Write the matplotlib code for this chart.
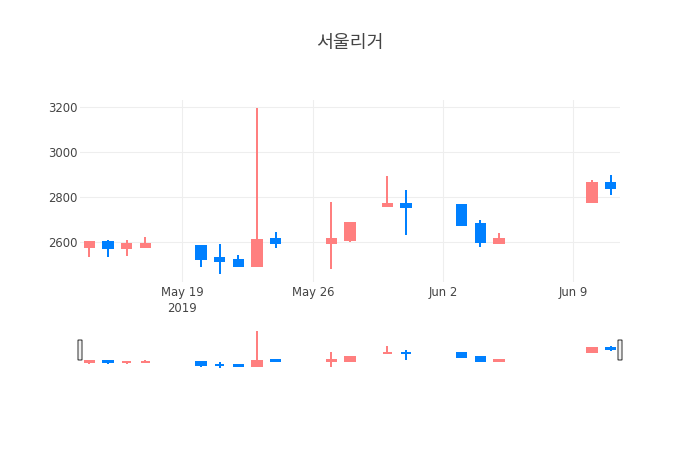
import pandas as pd
import matplotlib
matplotlib.use('Agg')
import matplotlib.pyplot as plt
import matplotlib.dates as mdates
from matplotlib.patches import FancyBboxPatch

plt.rcParams['font.family'] = ['DejaVu Sans', 'Noto Sans CJK KR']

dates = ['2019-05-14', '2019-05-15', '2019-05-16', '2019-05-17', '2019-05-20',
         '2019-05-21', '2019-05-22', '2019-05-23', '2019-05-24', '2019-05-27',
         '2019-05-28', '2019-05-30', '2019-05-31', '2019-06-03', '2019-06-04',
         '2019-06-05', '2019-06-10', '2019-06-11']
open_ = [2580, 2600, 2575, 2580, 2585, 2530, 2520, 2495, 2615, 2595,
         2610, 2760, 2770, 2765, 2680, 2595, 2780, 2865]
high = [2600, 2610, 2610, 2625, 2585, 2590, 2545, 3195, 2645, 2780,
        2690, 2895, 2830, 2765, 2700, 2640, 2875, 2900]
low = [2535, 2535, 2540, 2580, 2490, 2460, 2490, 2495, 2575, 2480,
       2600, 2760, 2630, 2675, 2580, 2595, 2780, 2810]
close = [2600, 2575, 2590, 2590, 2525, 2515, 2495, 2610, 2595, 2615,
         2685, 2770, 2755, 2675, 2600, 2615, 2865, 2840]

xticks = ['2019-05-19', '2019-05-26', '2019-06-02', '2019-06-09']
xticklabels = ['May 19\n2019', 'May 26', 'Jun 2', 'Jun 9']
yticks = [2600, 2800, 3000, 3200]

UP = '#ff7f7f'
DOWN = '#0080ff'
TXT = '#444444'

df = pd.DataFrame({'date': pd.to_datetime(dates), 'open': open_, 'high': high,
                   'low': low, 'close': close})
df['x'] = mdates.date2num(df['date'])
df['color'] = [UP if c > o else DOWN for o, c in zip(df.open, df.close)]

W, H = 700, 450
fig = plt.figure(figsize=(7, 4.5), dpi=100)
ax = fig.add_axes([80 / W, (H - 282) / H, 540 / W, 182 / H])
ax_s = fig.add_axes([80 / W, 80 / H, 540 / W, 40.5 / H])

span = df.high.max() - df.low.min()
ylo, yhi = df.low.min() - 0.05 * span, df.high.max() + 0.05 * span
xlo, xhi = df.x.min() - 0.5, df.x.max() + 0.5


def draw_candles(a):
    lw = 1.44
    a.vlines(df.x, df.low, df.high, colors=df.color, linewidth=lw, zorder=2)
    bottoms = df[['open', 'close']].min(axis=1)
    heights = (df.open - df.close).abs()
    a.bar(df.x, heights, width=0.5, bottom=bottoms, color=df.color,
          edgecolor=df.color, linewidth=lw, zorder=3)
    a.set_xlim(xlo, xhi)
    a.set_ylim(ylo, yhi)


draw_candles(ax)
ax.set_yticks(yticks)
ax.set_yticklabels([str(v) for v in yticks])
ax.set_xticks(mdates.date2num(pd.to_datetime(xticks)))
ax.set_xticklabels(xticklabels)
ax.grid(True, color='#eeeeee', linewidth=0.8)
ax.set_axisbelow(True)
for s in ax.spines.values():
    s.set_visible(False)
ax.tick_params(length=0, labelsize=8.4, labelcolor=TXT)
ax.tick_params(axis='y', pad=1.5)
ax.tick_params(axis='x', pad=3)
for lab in ax.get_xticklabels():
    lab.set_linespacing(1.25)

draw_candles(ax_s)
ax_s.axis('off')
for xpos in (0.0, 1.0):
    hw = 4.0 / 540
    hp = FancyBboxPatch((xpos - hw / 2, (370 - 360) / 40.5), hw, 20 / 40.5,
                        boxstyle='round,pad=0,rounding_size=0.003',
                        transform=ax_s.transAxes, clip_on=False,
                        facecolor='#f2f2f2', edgecolor='#444444',
                        linewidth=0.8, zorder=5)
    ax_s.add_patch(hp)

fig.text(0.5, 1 - 43 / H, '서울리거', ha='center', va='center',
         fontsize=13.2, color=TXT)

fig.savefig('out.png', dpi=100, facecolor='white')
